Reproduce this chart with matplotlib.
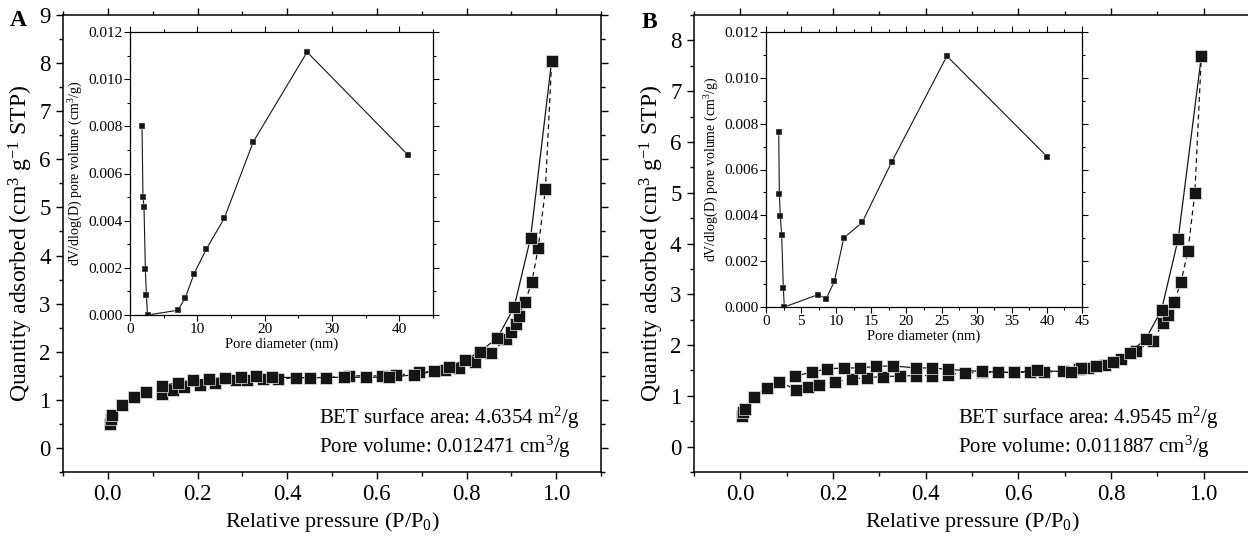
import matplotlib
matplotlib.use("Agg")
import matplotlib.pyplot as plt
from matplotlib.ticker import MultipleLocator

plt.rcParams['font.family'] = ['Liberation Serif', 'DejaVu Serif']
plt.rcParams['mathtext.fontset'] = 'custom'
plt.rcParams['mathtext.rm'] = 'Liberation Serif'
plt.rcParams['mathtext.it'] = 'Liberation Serif:italic'
plt.rcParams['mathtext.bf'] = 'Liberation Serif:bold'

# ---------------- Panel A data ----------------
a_ads_x = [0.004, 0.007, 0.010, 0.031, 0.058, 0.086, 0.121, 0.146, 0.170, 0.206, 0.240, 0.286, 0.310,
           0.346, 0.380, 0.419, 0.487, 0.539, 0.611, 0.643, 0.695, 0.751, 0.783, 0.820, 0.854, 0.888,
           0.900, 0.910, 0.916, 0.931, 0.946, 0.960, 0.976, 0.990]
a_ads_y = [0.50, 0.60, 0.68, 0.89, 1.05, 1.17, 1.13, 1.21, 1.26, 1.31, 1.36, 1.41, 1.41,
           1.43, 1.43, 1.46, 1.46, 1.50, 1.50, 1.51, 1.57, 1.62, 1.66, 1.78, 1.97, 2.27,
           2.40, 2.57, 2.74, 3.04, 3.46, 4.16, 5.38, 8.05]
a_des_x = [0.990, 0.943, 0.906, 0.869, 0.830, 0.797, 0.762, 0.727, 0.683, 0.627, 0.575, 0.527,
           0.450, 0.366, 0.330, 0.296, 0.262, 0.225, 0.190, 0.156, 0.121]
a_des_y = [8.05, 4.37, 2.92, 2.29, 2.00, 1.83, 1.69, 1.59, 1.52, 1.47, 1.47, 1.47,
           1.46, 1.47, 1.50, 1.47, 1.46, 1.43, 1.41, 1.36, 1.29]
a_psd_x = [1.78, 1.93, 2.08, 2.28, 2.43, 2.6, 7.1, 8.2, 9.5, 11.3, 14.0, 18.3, 26.3, 41.3]
a_psd_y = [0.0080, 0.0050, 0.00459, 0.00196, 0.00086, 0.0000, 0.0002, 0.00072, 0.00174,
           0.00278, 0.0041, 0.00734, 0.01115, 0.00678]

# ---------------- Panel B data ----------------
b_ads_x = [0.004, 0.006, 0.010, 0.029, 0.057, 0.084, 0.120, 0.146, 0.170, 0.205, 0.240, 0.274, 0.308,
           0.345, 0.379, 0.414, 0.448, 0.484, 0.521, 0.556, 0.590, 0.625, 0.655, 0.697, 0.730, 0.750,
           0.786, 0.822, 0.855, 0.890, 0.912, 0.922, 0.936, 0.951, 0.966, 0.981, 0.995]
b_ads_y = [0.60, 0.68, 0.75, 0.98, 1.16, 1.28, 1.12, 1.18, 1.21, 1.28, 1.33, 1.36, 1.38,
           1.39, 1.40, 1.40, 1.42, 1.45, 1.46, 1.46, 1.46, 1.47, 1.46, 1.49, 1.52, 1.55,
           1.61, 1.73, 1.89, 2.08, 2.43, 2.59, 2.85, 3.24, 3.85, 5.00, 7.69]
b_des_x = [0.995, 0.945, 0.909, 0.875, 0.840, 0.804, 0.768, 0.735, 0.713, 0.640, 0.590, 0.521,
           0.448, 0.414, 0.379, 0.329, 0.293, 0.259, 0.224, 0.188, 0.155, 0.119]
b_des_y = [7.69, 4.09, 2.69, 2.12, 1.85, 1.66, 1.58, 1.55, 1.47, 1.50, 1.46, 1.48,
           1.52, 1.55, 1.55, 1.59, 1.58, 1.55, 1.55, 1.53, 1.47, 1.39]
b_psd_x = [1.81, 1.90, 2.04, 2.23, 2.47, 2.61, 7.41, 8.56, 9.74, 11.07, 13.69, 17.92, 25.76, 40.07]
b_psd_y = [0.00765, 0.00495, 0.00396, 0.00316, 0.00081, 0.0000, 0.00054, 0.00036, 0.00112,
           0.00301, 0.00369, 0.00634, 0.01095, 0.00655]

panel_letters = ['A', 'B']
bet_texts = ['BET surface area: 4.6354 m$^{2}$/g', 'BET surface area: 4.9545 m$^{2}$/g']
pv_texts = ['Pore volume: 0.012471 cm$^{3}$/g', 'Pore volume: 0.011887 cm$^{3}$/g']
main_xticks = [0.0, 0.2, 0.4, 0.6, 0.8, 1.0]
inset_yticks = [0.000, 0.002, 0.004, 0.006, 0.008, 0.010, 0.012]

W, H = 1248, 536
fig = plt.figure(figsize=(W / 100, H / 100), dpi=100)


def px_axes(l, t, r, b):
    return fig.add_axes([l / W, 1 - b / H, (r - l) / W, (b - t) / H])


def style_main(ax, ytop):
    ax.set_xlim(-0.1, 1.1)
    ax.set_ylim(-0.5, ytop)
    ax.set_xticks(main_xticks)
    ax.set_xticklabels([f"{v:.1f}" for v in main_xticks])
    ax.xaxis.set_minor_locator(MultipleLocator(0.1))
    ax.yaxis.set_major_locator(MultipleLocator(1))
    ax.yaxis.set_minor_locator(MultipleLocator(0.5))
    ax.tick_params(which='both', direction='out', top=True, right=True, labelsize=16.5, width=1.0)
    ax.tick_params(which='major', length=5, pad=4)
    ax.tick_params(which='minor', length=3)
    for s in ax.spines.values():
        s.set_linewidth(1.1)
    ax.set_xlabel('Relative pressure (P/P$_{0}$)', fontsize=16, labelpad=3)
    ax.set_ylabel('Quantity adsorbed (cm$^{3}$ g$^{-1}$ STP)', fontsize=17, labelpad=3)


def style_inset(ax, xmajor, xmax):
    ax.set_xlim(0, xmax)
    ax.set_ylim(0, 0.012)
    ax.xaxis.set_major_locator(MultipleLocator(xmajor))
    ax.xaxis.set_minor_locator(MultipleLocator(xmajor / 2))
    ax.set_yticks(inset_yticks)
    ax.set_yticklabels([f"{v:.3f}" for v in inset_yticks])
    ax.yaxis.set_minor_locator(MultipleLocator(0.001))
    ax.tick_params(which='both', direction='out', top=True, right=True, labelsize=11, width=0.8)
    ax.tick_params(which='major', length=4, pad=1.5)
    ax.tick_params(which='minor', length=2)
    ax.tick_params(axis='x', labeltop=False)
    for s in ax.spines.values():
        s.set_linewidth(0.9)
    ax.set_xlabel('Pore diameter (nm)', fontsize=10.5, labelpad=1)
    ax.set_ylabel('dV/dlog(D) pore volume (cm$^{3}$/g)', fontsize=10, labelpad=2)


def draw_panel(i, main_box, inset_box, ytop, ads_x, ads_y, des_x, des_y, psd_x, psd_y,
               xmajor, letter_pos):
    ax = px_axes(*main_box)
    style_main(ax, ytop)
    mk = dict(marker='s', markersize=8.3, color='#151515', markeredgecolor='#e8e8e8',
              markeredgewidth=0.5, linewidth=0.9)
    ax.plot(ads_x, ads_y, linestyle=(0, (4, 3)), **mk)
    ax.plot(des_x, des_y, linestyle='-', **mk)
    ax.text(0.47, 0.62 if i == 0 else 0.57, bet_texts[i], fontsize=15, ha='left', va='center')
    ax.text(0.47, 0.03 if i == 0 else 0.0, pv_texts[i], fontsize=15, ha='left', va='center')

    ins = px_axes(*inset_box)
    style_inset(ins, xmajor, 45)
    ins.plot(psd_x, psd_y, '-', color='#151515', linewidth=0.8, marker='s', markersize=4.5,
             markeredgewidth=0.3, markeredgecolor='#e8e8e8')
    fig.text(letter_pos[0] / W, 1 - letter_pos[1] / H, panel_letters[i], fontsize=17,
             fontweight='bold', ha='left', va='center')


draw_panel(0, (63, 15, 601, 472), (130, 32, 433, 315), 9.0,
           a_ads_x, a_ads_y, a_des_x, a_des_y, a_psd_x, a_psd_y, 10, (10, 20))
draw_panel(1, (694, 15, 1250, 472), (766, 32, 1082, 307), 8.5,
           b_ads_x, b_ads_y, b_des_x, b_des_y, b_psd_x, b_psd_y, 5, (642, 22))

fig.savefig('out.png', dpi=100)
